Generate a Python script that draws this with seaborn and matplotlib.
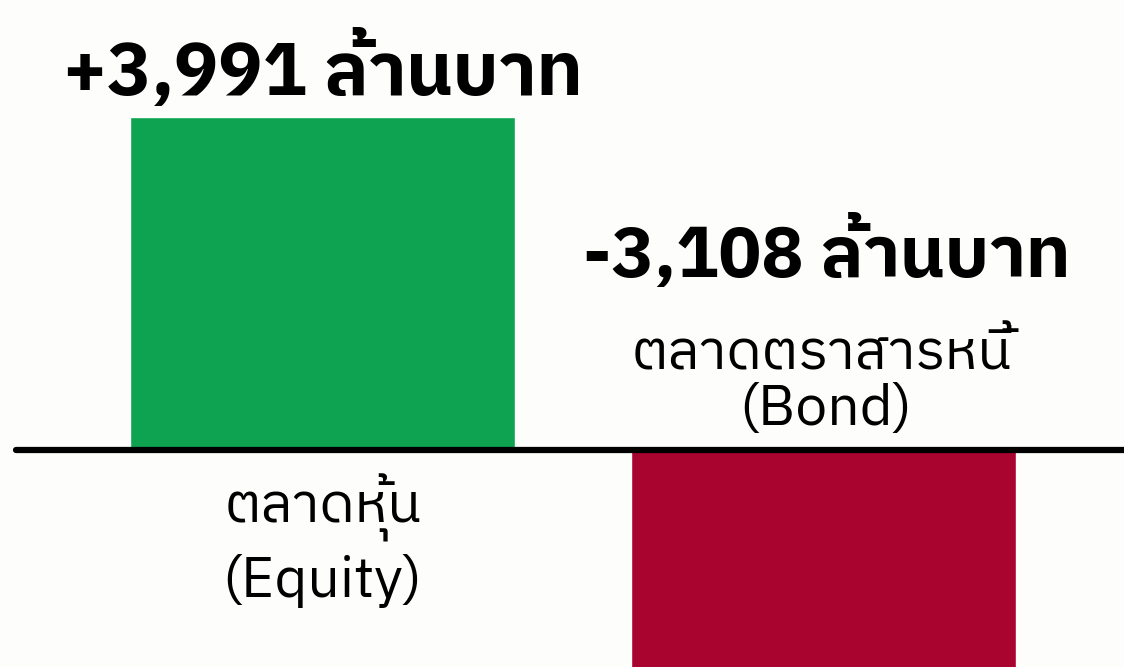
import matplotlib
matplotlib.use("Agg")
import matplotlib.pyplot as plt
import seaborn as sns
import pandas as pd

categories = ["ตลาดหุ้น\n(Equity)", "ตลาดตราสารหนี้\n(Bond)"]
values = [3991, -3108]
value_labels = ["+3,991 ล้านบาท", "-3,108 ล้านบาท"]
colors = ["#0ea350", "#a9032f"]

sns.set_theme(style="white")
FAM = ["IBM Plex Sans Thai", "Noto Sans Thai", "DejaVu Sans"]
plt.rcParams["font.family"] = FAM

df = pd.DataFrame({"cat": categories, "val": values})
fig = plt.figure(figsize=(11.24, 6.67), dpi=100)
fig.patch.set_facecolor("#fdfdfb")
ax = fig.add_axes([0, 0, 1, 1])
ax.set_facecolor("#fdfdfb")
sns.barplot(data=df, x="cat", y="val", hue="cat", palette=colors, width=0.77,
            legend=False, ax=ax, saturation=1)
ax.set_xlim(-0.644, 1.600)
ax.set_ylim(-2601, 5393)
ax.axhline(0, xmin=16 / 1124, xmax=1, color="black", lw=4.5, zorder=5)
for s in ax.spines.values():
    s.set_visible(False)
ax.set_xticks([]); ax.set_yticks([])
ax.set_xlabel(""); ax.set_ylabel("")

# value labels (bold, above)
ax.text(0, 4254, value_labels[0], ha="center", va="baseline", fontsize=53,
        fontweight="bold", color="black")
ax.text(1.006, 2073, value_labels[1], ha="center", va="baseline", fontsize=51,
        fontweight="bold", color="black")

# category labels, one line at a time
bond_l1, bond_l2 = categories[1].split("\n")
eq_l1, eq_l2 = categories[0].split("\n")
ax.text(0.996, 959, bond_l1, ha="center", va="baseline", fontsize=40, color="black")
ax.text(1.005, 299, bond_l2, ha="center", va="baseline", fontsize=41, color="black")
ax.text(0.001, -875, eq_l1, ha="center", va="baseline", fontsize=40, color="black")
ax.text(0.0, -1762, eq_l2, ha="center", va="baseline", fontsize=41, color="black")

fig.savefig("out.png", dpi=100, facecolor=fig.get_facecolor())
